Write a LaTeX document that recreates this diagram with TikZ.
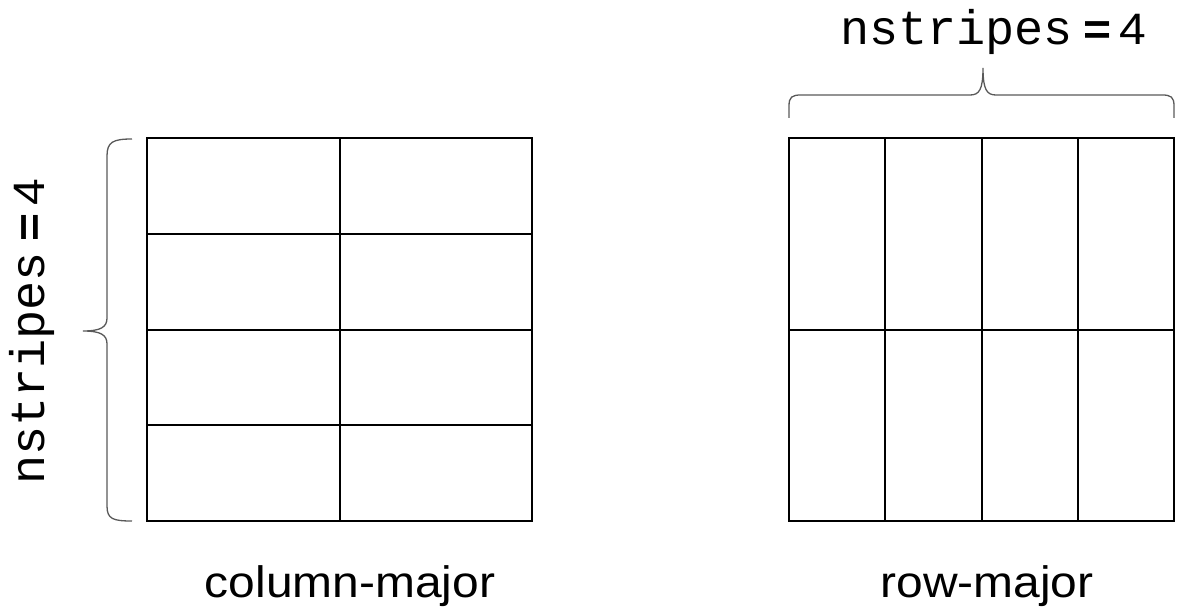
\documentclass[tikz,border=0pt]{standalone}
\usepackage{fontspec}
\newfontfamily\labsans[FakeStretch=1.09]{Liberation Sans}
\newfontfamily\labmono{Liberation Mono}
\newcommand{\nstripeslabel}{{\labmono\fontsize{48.5}{52}\selectfont nstripes}\hspace{10pt}{\labsans\fontsize{44}{50}\selectfont \textbf{=}\hspace{8pt}4}}
\begin{document}
\begin{tikzpicture}[x=1pt,y=-1pt,
  gridline/.style={line width=2pt,black},
  bracepath/.style={line width=1.3pt,black!65},
  lbl/.style={inner sep=0pt,font=\labsans\fontsize{44}{50}\selectfont},
  eqlbl/.style={inner sep=0pt}]
\useasboundingbox (0,0) rectangle (1187,607);
% left grid: 2 columns x 4 rows
\draw[gridline] (147,138) rectangle (532,521);
\draw[gridline] (339.5,138) -- (339.5,521);
\foreach \yy in {233.75,329.5,425.25} \draw[gridline] (147,\yy) -- (532,\yy);
% right grid: 4 columns x 2 rows
\draw[gridline] (789,138) rectangle (1174,521);
\foreach \xx in {885.25,981.5,1077.75} \draw[gridline] (\xx,138) -- (\xx,521);
\draw[gridline] (789,329.5) -- (1174,329.5);
% left brace
\draw[bracepath] (132,139) .. controls (113,139) and (107,142) .. (107,156) -- (107,318)
  .. controls (107,327) and (101,331) .. (83,331)
  .. controls (101,331) and (107,335) .. (107,344) -- (107,506)
  .. controls (107,519) and (113,521) .. (132,521);
% top brace
\draw[bracepath] (789,118) -- (789,106) .. controls (789,97) and (792,95) .. (801,95) -- (970,95)
  .. controls (979,95) and (983,90) .. (983,68)
  .. controls (983,90) and (987,95) .. (996,95) -- (1162,95)
  .. controls (1171,95) and (1174,97) .. (1174,106) -- (1174,118);
% texts
\node[eqlbl,anchor=base west] (toplbl) at (840,45) {\nstripeslabel};
\node[eqlbl,anchor=base west,rotate=90] (leftlbl) at (45,485) {\nstripeslabel};
\node[lbl,anchor=base] (colmaj) at (350,597) {column-major};
\node[lbl,anchor=base] (rowmaj) at (987,597) {row-major};
\end{tikzpicture}
\end{document}
